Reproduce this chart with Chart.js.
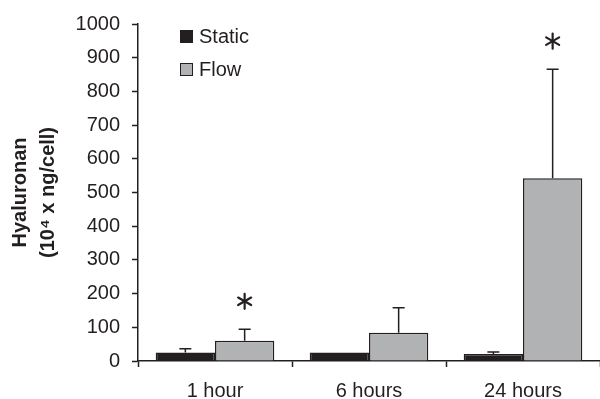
<!DOCTYPE html>
<html>
<head>
<meta charset="utf-8">
<script src="https://cdn.jsdelivr.net/npm/chart.js@4.4.1/dist/chart.umd.min.js"></script>
<style>
  body { margin: 0; background: #fff; }
</style>
</head>
<body>
<canvas id="chart" width="600" height="399"></canvas>
<script>
// values (10^4 x ng/cell)
const categories = ['1 hour', '6 hours', '24 hours'];
const staticMean = [25, 25, 21];
const staticErr = [11, 0, 6];
const flowMean = [60, 84, 542];
const flowErr = [34, 74, 324];
const flowSignificant = [true, false, true];
const yTickValues = [0, 100, 200, 300, 400, 500, 600, 700, 800, 900, 1000];

const INK = '#231f20';
const FONT = '"Liberation Sans", Arial, sans-serif';

// error bars (upper only) + asterisks for significant groups
const errorBarPlugin = {
  id: 'errorBars',
  afterDatasetsDraw(chart) {
    const ctx = chart.ctx;
    const y = chart.scales.y;
    ctx.save();
    ctx.strokeStyle = INK;
    ctx.lineWidth = 1.5;
    chart.data.datasets.forEach((ds, i) => {
      const meta = chart.getDatasetMeta(i);
      meta.data.forEach((bar, j) => {
        const err = ds.errors[j];
        if (!err) return;
        const yTop = y.getPixelForValue(ds.data[j] + err);
        const yBase = y.getPixelForValue(ds.data[j]);
        ctx.beginPath();
        ctx.moveTo(bar.x, yBase);
        ctx.lineTo(bar.x, yTop);
        ctx.moveTo(bar.x - 6, yTop);
        ctx.lineTo(bar.x + 6, yTop);
        ctx.stroke();
        if (ds.significant && ds.significant[j]) {
          drawAsterisk(ctx, bar.x, yTop - 28, 7.5);
        }
      });
    });
    ctx.restore();
  }
};

function drawAsterisk(ctx, cx, cy, r) {
  ctx.save();
  ctx.lineWidth = 2.2;
  ctx.lineCap = 'round';
  for (let k = 0; k < 3; k++) {
    const a = Math.PI / 2 + k * Math.PI / 3;
    ctx.beginPath();
    ctx.moveTo(cx - r * Math.cos(a), cy - r * Math.sin(a));
    ctx.lineTo(cx + r * Math.cos(a), cy + r * Math.sin(a));
    ctx.stroke();
  }
  ctx.restore();
}

// small legend in the upper-left of the plot
const legendPlugin = {
  id: 'boxLegend',
  afterDraw(chart) {
    const ctx = chart.ctx;
    ctx.save();
    ctx.font = '20px ' + FONT;
    ctx.textBaseline = 'middle';
    ctx.textAlign = 'left';
    chart.data.datasets.forEach((ds, i) => {
      const top = 30 + i * 33;
      ctx.fillStyle = ds.backgroundColor;
      ctx.fillRect(180, top, 13, 13);
      ctx.strokeStyle = INK;
      ctx.lineWidth = 1;
      ctx.strokeRect(180.5, top + 0.5, 12, 12);
      ctx.fillStyle = INK;
      ctx.fillText(ds.label, 199, top + 7);
    });
    ctx.restore();
  }
};

new Chart(document.getElementById('chart'), {
  type: 'bar',
  data: {
    labels: categories,
    datasets: [
      {
        label: 'Static',
        data: staticMean,
        errors: staticErr,
        backgroundColor: INK,
        borderColor: INK,
        borderWidth: 1.5,
        categoryPercentage: 0.77,
        barPercentage: 1
      },
      {
        label: 'Flow',
        data: flowMean,
        errors: flowErr,
        significant: flowSignificant,
        backgroundColor: '#b1b2b4',
        borderColor: INK,
        borderWidth: 1.5,
        categoryPercentage: 0.77,
        barPercentage: 1
      }
    ]
  },
  options: {
    responsive: false,
    animation: false,
    layout: { padding: { top: 21, right: 0, left: 0, bottom: 0 } },
    plugins: {
      legend: { display: false },
      tooltip: { enabled: false }
    },
    scales: {
      x: {
        offset: true,
        grid: {
          offset: true,
          drawOnChartArea: false,
          drawTicks: true,
          tickLength: 6,
          tickColor: INK,
          tickWidth: 1.5
        },
        border: { color: INK, width: 1.5 },
        ticks: {
          color: INK,
          font: { family: FONT, size: 20, lineHeight: 1 },
          padding: 14
        },
        afterFit(scale) { scale.height = 38; }
      },
      y: {
        min: 0,
        max: 1000,
        afterBuildTicks(scale) {
          scale.ticks = yTickValues.map(v => ({ value: v }));
        },
        grid: {
          drawOnChartArea: false,
          drawTicks: true,
          tickLength: 6,
          tickColor: INK,
          tickWidth: 1.5
        },
        border: { color: INK, width: 1.5 },
        ticks: {
          color: INK,
          font: { family: FONT, size: 20 },
          padding: 12,
          callback: v => String(v)
        },
        title: {
          display: true,
          text: ['Hyaluronan', '(10\u2074 x ng/cell)'],
          color: INK,
          font: { family: FONT, size: 20, weight: 'bold', lineHeight: 1.4 },
          padding: { top: 6, bottom: 0 }
        },
        afterFit(scale) { scale.width = 138; }
      }
    }
  },
  plugins: [errorBarPlugin, legendPlugin]
});
</script>
</body>
</html>
